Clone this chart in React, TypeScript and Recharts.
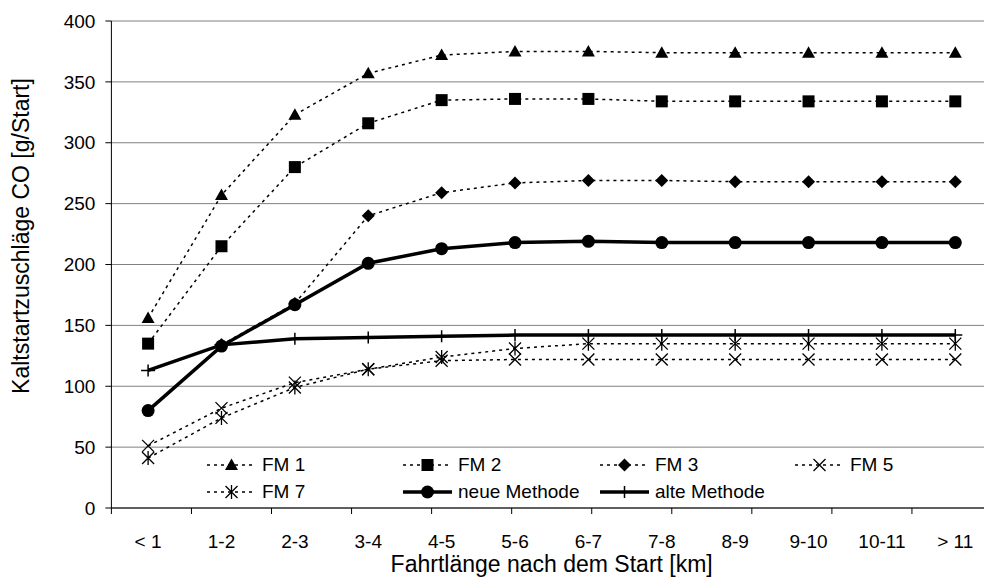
import { CartesianGrid, Legend, Line, LineChart, XAxis, YAxis } from "recharts"

const categories = ["< 1", "1-2", "2-3", "3-4", "4-5", "5-6", "6-7", "7-8", "8-9", "9-10", "10-11", "> 11"]

const fm1 = [156, 257, 323, 357, 372, 375, 375, 374, 374, 374, 374, 374]
const fm2 = [135, 215, 280, 316, 335, 336, 336, 334, 334, 334, 334, 334]
const fm3 = [null, 134, 168, 240, 259, 267, 269, 269, 268, 268, 268, 268]
const fm5 = [51, 82, 103, 114, 121, 122, 122, 122, 122, 122, 122, 122]
const fm7 = [41, 74, 99, 114, 124, 131, 135, 135, 135, 135, 135, 135]
const neueMethode = [80, 133, 167, 201, 213, 218, 219, 218, 218, 218, 218, 218]
const alteMethode = [113, 134, 139, 140, 141, 142, 142, 142, 142, 142, 142, 142]

const yTicks = [0, 50, 100, 150, 200, 250, 300, 350, 400]
const edgeTicks = [0, 1, 2, 3, 4, 5, 6, 7, 8, 9, 10, 11, 12]

type Shape = "triangle" | "square" | "diamond" | "x" | "star" | "circle" | "plus"

type Series = {
  key: string
  name: string
  values: (number | null)[]
  shape: Shape
  thick: boolean
}

const series: Series[] = [
  { key: "fm1", name: "FM 1", values: fm1, shape: "triangle", thick: false },
  { key: "fm2", name: "FM 2", values: fm2, shape: "square", thick: false },
  { key: "fm3", name: "FM 3", values: fm3, shape: "diamond", thick: false },
  { key: "fm5", name: "FM 5", values: fm5, shape: "x", thick: false },
  { key: "fm7", name: "FM 7", values: fm7, shape: "star", thick: false },
  { key: "neue", name: "neue Methode", values: neueMethode, shape: "circle", thick: true },
  { key: "alte", name: "alte Methode", values: alteMethode, shape: "plus", thick: true },
]

const data = categories.map((cat, i) => {
  const row: Record<string, string | number | null> = { cat }
  series.forEach((s) => {
    row[s.key] = s.values[i]
  })
  return row
})

const FONT = '"Liberation Sans", Arial, sans-serif'
const DASH = "3 4"
// half of one category band, so the points sit in the middle of each band
const HALF_BAND = 36.7

function Marker({ shape, cx, cy }: { shape: Shape; cx: number; cy: number }) {
  switch (shape) {
    case "triangle":
      return <polygon points={`${cx},${cy - 6.5} ${cx + 6.5},${cy + 5} ${cx - 6.5},${cy + 5}`} fill="#000" />
    case "square":
      return <rect x={cx - 6} y={cy - 6} width={12} height={12} fill="#000" />
    case "diamond":
      return <polygon points={`${cx},${cy - 6.5} ${cx + 6.5},${cy} ${cx},${cy + 6.5} ${cx - 6.5},${cy}`} fill="#000" />
    case "circle":
      return <circle cx={cx} cy={cy} r={6.5} fill="#000" />
    case "x":
      return (
        <path
          d={`M${cx - 6},${cy - 6}L${cx + 6},${cy + 6}M${cx + 6},${cy - 6}L${cx - 6},${cy + 6}`}
          stroke="#000"
          strokeWidth={1.3}
        />
      )
    case "star":
      return (
        <path
          d={`M${cx - 6},${cy - 6}L${cx + 6},${cy + 6}M${cx + 6},${cy - 6}L${cx - 6},${cy + 6}M${cx},${cy - 7}V${cy + 7}`}
          stroke="#000"
          strokeWidth={1.3}
        />
      )
    case "plus":
      return <path d={`M${cx},${cy - 6}V${cy + 6}M${cx - 7},${cy}H${cx + 7}`} stroke="#000" strokeWidth={1.5} />
  }
  return null
}

const makeDot = (shape: Shape) => (props: any) => {
  const { cx, cy, index } = props
  if (cx == null || cy == null || props.value == null) return <g key={`${shape}-${index}`} />
  return (
    <g key={`${shape}-${index}`}>
      <Marker shape={shape} cx={cx} cy={cy} />
    </g>
  )
}

const legendCols = [207, 403, 600, 795]
const legendRows = [465, 491.5]
const LEGEND_TOP = 440

function LegendBox() {
  return (
    <div style={{ position: "relative", width: 1000, height: 70, fontFamily: FONT }}>
      {series.map((s, i) => {
        const left = legendCols[i % 4]
        const top = legendRows[Math.floor(i / 4)] - LEGEND_TOP - 12
        return (
          <div
            key={s.key}
            style={{ position: "absolute", left, top, height: 24, display: "flex", alignItems: "center", whiteSpace: "nowrap" }}
          >
            <svg width={49} height={24} style={{ display: "block" }}>
              <line
                x1={0}
                x2={49}
                y1={12}
                y2={12}
                stroke="#000"
                strokeWidth={s.thick ? 3.5 : 1.5}
                strokeDasharray={s.thick ? undefined : DASH}
              />
              <Marker shape={s.shape} cx={24.5} cy={12} />
            </svg>
            <span style={{ marginLeft: 6, fontSize: 19, lineHeight: "24px", color: "#000" }}>{s.name}</span>
          </div>
        )
      })}
    </div>
  )
}

function YTitle() {
  return (
    <text
      x={29}
      y={236}
      transform="rotate(-90 29 236)"
      textAnchor="middle"
      fontSize={23}
      fontFamily={FONT}
      fill="#000"
    >
      Kaltstartzuschläge CO [g/Start]
    </text>
  )
}

export default function App() {
  return (
    <div
      style={{
        position: "absolute",
        left: 0,
        top: 0,
        width: 984,
        height: 579,
        overflow: "hidden",
        background: "#fff",
      }}
    >
      <LineChart
        width={1000}
        height={579}
        data={data}
        margin={{ top: 21, right: 8, bottom: 0, left: 0 }}
        style={{ fontFamily: FONT }}
      >
        <CartesianGrid xAxisId="axB" vertical={false} stroke="#808080" strokeWidth={1} />
        <XAxis
          xAxisId="axA"
          type="number"
          domain={[0, 12]}
          ticks={edgeTicks}
          interval={0}
          height={1}
          tickFormatter={() => ""}
          axisLine={{ stroke: "#000", strokeWidth: 1 }}
          tickLine={{ stroke: "#000", strokeWidth: 1 }}
          tickSize={6}
        />
        <XAxis
          xAxisId="axB"
          dataKey="cat"
          type="category"
          height={70}
          interval={0}
          padding={{ left: HALF_BAND, right: HALF_BAND }}
          axisLine={false}
          tickLine={false}
          tickSize={6}
          tickMargin={20}
          tick={{ fill: "#000", fontSize: 19, fontFamily: FONT }}
          label={{
            value: "Fahrtlänge nach dem Start [km]",
            position: "insideBottom",
            offset: 7,
            fill: "#000",
            fontSize: 23,
            fontFamily: FONT,
          }}
        />
        <YAxis
          type="number"
          domain={[0, 400]}
          ticks={yTicks}
          interval={0}
          width={111.4}
          axisLine={{ stroke: "#000", strokeWidth: 1 }}
          tickLine={{ stroke: "#000", strokeWidth: 1 }}
          tickSize={6}
          tickMargin={10}
          tick={{ fill: "#000", fontSize: 19, fontFamily: FONT }}
          label={() => <YTitle />}
        />
        <Legend
          layout="vertical"
          align="center"
          verticalAlign="middle"
          wrapperStyle={{ left: 0, top: LEGEND_TOP, width: 1000 }}
          content={() => <LegendBox />}
        />
        {series.map((s) => (
          <Line
            key={s.key}
            xAxisId="axB"
            dataKey={s.key}
            name={s.name}
            type="linear"
            stroke="#000"
            strokeWidth={s.thick ? 3.5 : 1.5}
            strokeDasharray={s.thick ? undefined : DASH}
            dot={makeDot(s.shape)}
            activeDot={false}
            isAnimationActive={false}
          />
        ))}
      </LineChart>
    </div>
  )
}
